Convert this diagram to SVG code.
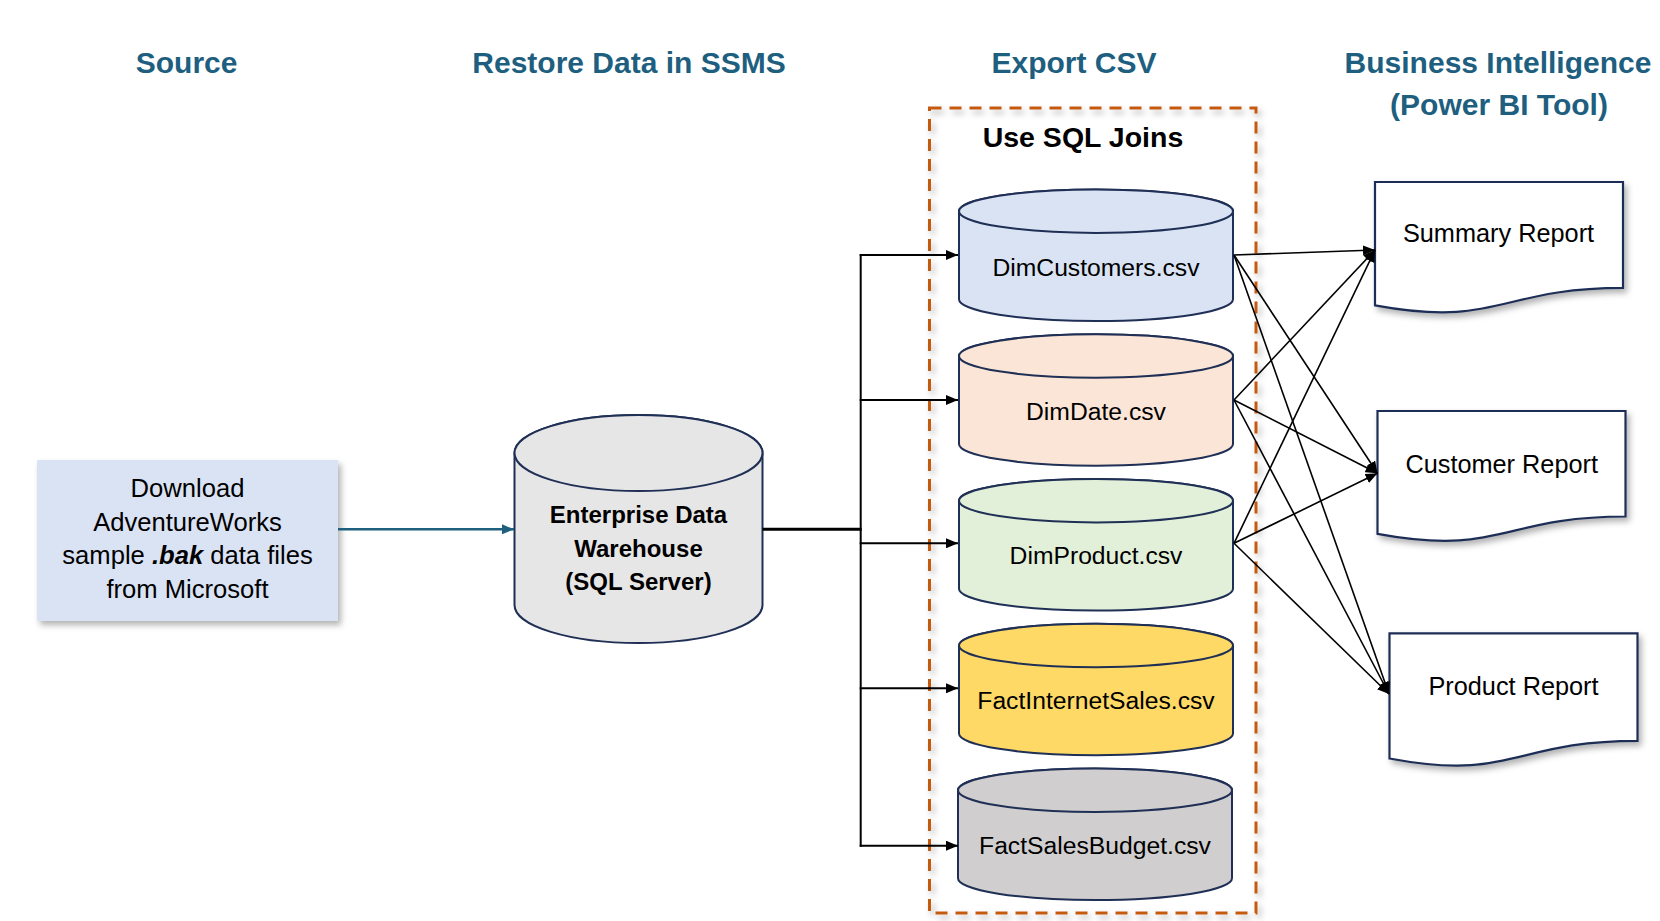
<svg xmlns="http://www.w3.org/2000/svg" width="1660" height="921" viewBox="0 0 1660 921">
<defs>
<style>
.h{font-family:"Liberation Sans",Arial,sans-serif;font-weight:bold;font-size:30px;fill:#1E5F7F;text-anchor:middle}
.t{font-family:"Liberation Sans",Arial,sans-serif;font-size:24.7px;fill:#000;text-anchor:middle}
.r{font-family:"Liberation Sans",Arial,sans-serif;font-size:25.3px;fill:#000;text-anchor:middle}
.b{font-family:"Liberation Sans",Arial,sans-serif;font-size:24px;font-weight:bold;fill:#000;text-anchor:middle}
.cyl{stroke:#1F2F55;stroke-width:2}
.doc{fill:#fff;stroke:#1F2F55;stroke-width:2.2}
.con{fill:none;stroke:#000;stroke-width:1.6}
.br{fill:none;stroke:#000;stroke-width:2}
</style>
<filter id="sh" x="-10%" y="-10%" width="130%" height="130%">
<feDropShadow dx="3" dy="4" stdDeviation="3" flood-color="#000" flood-opacity="0.3"/>
</filter>
<marker id="ah" markerUnits="userSpaceOnUse" markerWidth="12" markerHeight="10" refX="12" refY="5" orient="auto">
<path d="M0,0 L12,5 L0,10 Z" fill="#000"/>
</marker>
<marker id="ahb" markerUnits="userSpaceOnUse" markerWidth="12" markerHeight="10" refX="12" refY="5" orient="auto">
<path d="M0,0 L12,5 L0,10 Z" fill="#1E5F7F"/>
</marker>
</defs>
<rect width="1660" height="921" fill="#fff"/>

<g id="headings">
<text class="h" x="186.6" y="72.7">Source</text>
<text class="h" x="629" y="72.7">Restore Data in SSMS</text>
<text class="h" x="1074" y="72.7">Export CSV</text>
<text class="h" x="1498" y="72.7">Business Intelligence</text>
<text class="h" x="1499" y="115">(Power BI Tool)</text>
</g>

<g id="sqljoins">
<rect x="929.5" y="108" width="326.5" height="805" fill="none" stroke="#C55A11" stroke-width="3" stroke-dasharray="12 8" filter="url(#sh)"/>
<text x="1083" y="146.7" style="font-family:'Liberation Sans',Arial,sans-serif;font-weight:bold;font-size:28.5px;text-anchor:middle;fill:#000">Use SQL Joins</text>
</g>

<g id="source">
<rect x="37" y="460" width="301" height="161" fill="#DAE3F3" filter="url(#sh)"/>
<text class="t" x="187.5" y="497" style="font-size:25.6px">Download</text>
<text class="t" x="187.5" y="530.5" style="font-size:25.6px">AdventureWorks</text>
<text class="t" x="187.5" y="564" style="font-size:25.6px">sample <tspan font-weight="bold" font-style="italic">.bak</tspan> data files</text>
<text class="t" x="187.5" y="597.5" style="font-size:25.6px">from Microsoft</text>
</g>

<g id="edw">
<path class="cyl" fill="#E7E6E6" d="M514.5,453 L514.5,605 A124,38 0 0 0 762.5,605 L762.5,453 A124,38 0 0 0 514.5,453 Z"/>
<ellipse class="cyl" fill="#E7E6E6" cx="638.5" cy="453" rx="124" ry="38"/>
<text class="b" x="638.5" y="523.3">Enterprise Data</text>
<text class="b" x="638.5" y="556.7">Warehouse</text>
<text class="b" x="638.5" y="590">(SQL Server)</text>
</g>

<g id="dimcustomers">
<path class="cyl" fill="#DAE3F3" d="M959,211.2 L959,299.3 A137,21.7 0 0 0 1233,299.3 L1233,211.2 A137,21.7 0 0 0 959,211.2 Z"/>
<ellipse class="cyl" fill="#DAE3F3" cx="1096" cy="211.2" rx="137" ry="21.7"/>
<text class="t" x="1096" y="275.5">DimCustomers.csv</text>
</g>
<g id="dimdate">
<path class="cyl" fill="#FBE5D6" d="M959,356 L959,444 A137,21.7 0 0 0 1233,444 L1233,356 A137,21.7 0 0 0 959,356 Z"/>
<ellipse class="cyl" fill="#FBE5D6" cx="1096" cy="356" rx="137" ry="21.7"/>
<text class="t" x="1096" y="419.5">DimDate.csv</text>
</g>
<g id="dimproduct">
<path class="cyl" fill="#E2F0D9" d="M959,500.7 L959,588.8 A137,21.7 0 0 0 1233,588.8 L1233,500.7 A137,21.7 0 0 0 959,500.7 Z"/>
<ellipse class="cyl" fill="#E2F0D9" cx="1096" cy="500.7" rx="137" ry="21.7"/>
<text class="t" x="1096" y="563.5">DimProduct.csv</text>
</g>
<g id="factinternetsales">
<path class="cyl" fill="#FFD966" d="M959,645.5 L959,733.5 A137,21.7 0 0 0 1233,733.5 L1233,645.5 A137,21.7 0 0 0 959,645.5 Z"/>
<ellipse class="cyl" fill="#FFD966" cx="1096" cy="645.5" rx="137" ry="21.7"/>
<text class="t" x="1096" y="708.5">FactInternetSales.csv</text>
</g>
<g id="factsalesbudget">
<path class="cyl" fill="#D0CECE" d="M958,790.2 L958,878.3 A137,21.7 0 0 0 1232,878.3 L1232,790.2 A137,21.7 0 0 0 958,790.2 Z"/>
<ellipse class="cyl" fill="#D0CECE" cx="1095" cy="790.2" rx="137" ry="21.7"/>
<text class="t" x="1095" y="853.5">FactSalesBudget.csv</text>
</g>

<g id="summaryreport">
<path class="doc" filter="url(#sh)" d="M1375,182 H1623 V287.9 C1499,287.9 1499,328.2 1375,305.3 Z"/>
<text class="r" x="1498.5" y="241.7">Summary Report</text>
</g>
<g id="customerreport">
<path class="doc" filter="url(#sh)" d="M1377.5,411 H1625.5 V516.5 C1501.5,516.5 1501.5,556.6 1377.5,533.8 Z"/>
<text class="r" x="1501.7" y="472.7">Customer Report</text>
</g>
<g id="productreport">
<path class="doc" filter="url(#sh)" d="M1389.5,633.3 H1637.5 V740.8 C1513.5,740.8 1513.5,781.7 1389.5,758.5 Z"/>
<text class="r" x="1513.5" y="695">Product Report</text>
</g>

<g id="connectors">
<line x1="338" y1="529.3" x2="514" y2="529.3" stroke="#1E5F7F" stroke-width="2.5" marker-end="url(#ahb)"/>
<line x1="762.5" y1="529.3" x2="861.7" y2="529.3" stroke="#000" stroke-width="3"/>
<line x1="860.7" y1="254" x2="860.7" y2="846.7" stroke="#000" stroke-width="2"/>
<path class="br" d="M859.7,255 H958" marker-end="url(#ah)"/>
<path class="br" d="M859.7,400 H958" marker-end="url(#ah)"/>
<path class="br" d="M859.7,543.3 H958" marker-end="url(#ah)"/>
<path class="br" d="M859.7,688.3 H958" marker-end="url(#ah)"/>
<path class="br" d="M859.7,845.7 H958" marker-end="url(#ah)"/>
<line class="con" x1="1234" y1="255" x2="1375" y2="250" marker-end="url(#ah)"/>
<line class="con" x1="1234" y1="255" x2="1377.5" y2="473.3" marker-end="url(#ah)"/>
<line class="con" x1="1234" y1="255" x2="1389" y2="694" marker-end="url(#ah)"/>
<line class="con" x1="1234" y1="400" x2="1375" y2="250" marker-end="url(#ah)"/>
<line class="con" x1="1234" y1="400" x2="1377.5" y2="473.3" marker-end="url(#ah)"/>
<line class="con" x1="1234" y1="400" x2="1389" y2="694" marker-end="url(#ah)"/>
<line class="con" x1="1234" y1="543.3" x2="1375" y2="250" marker-end="url(#ah)"/>
<line class="con" x1="1234" y1="543.3" x2="1377.5" y2="473.3" marker-end="url(#ah)"/>
<line class="con" x1="1234" y1="543.3" x2="1389" y2="694" marker-end="url(#ah)"/>
</g>
</svg>
